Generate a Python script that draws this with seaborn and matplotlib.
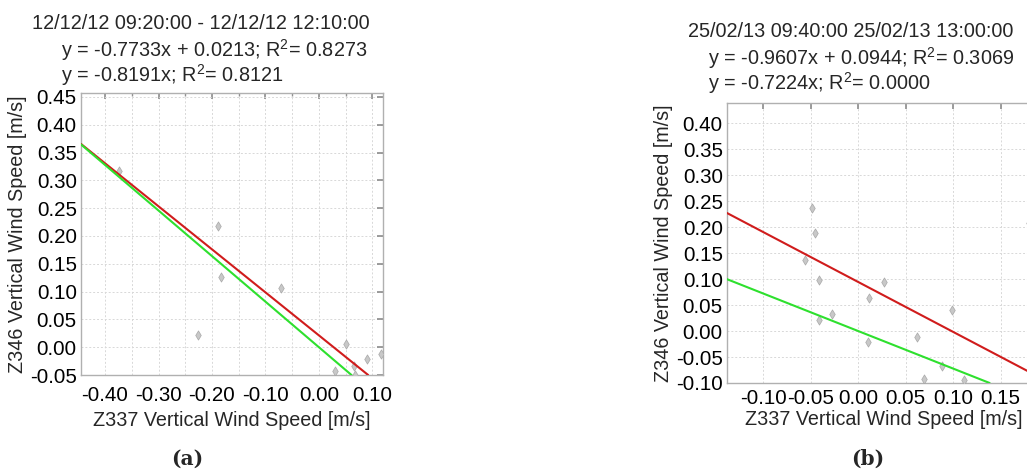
import numpy as np
import pandas as pd
import matplotlib
matplotlib.use("Agg")
import matplotlib.pyplot as plt
import seaborn as sns

# ---------------- data ----------------
a_x = [-0.374, -0.189, -0.184, -0.227, -0.071, 0.051, 0.031, 0.066, 0.068, 0.091, 0.117]
a_y = [0.317, 0.218, 0.126, 0.022, 0.106, 0.006, -0.043, -0.034, -0.050, -0.022, -0.013]
a_fit = (-0.7733, 0.0213)     # slope, intercept (red)
a_fit0 = -0.8191              # slope through origin (green)
a_title = "12/12/12 09:20:00 - 12/12/12 12:10:00"
a_eq1 = "y = -0.7733x + 0.0213; R$^2$= 0.8273"
a_eq2 = "y = -0.8191x; R$^2$= 0.8121"

b_x = [-0.049, -0.045, -0.056, -0.041, -0.041, -0.028, 0.011, 0.027, 0.010, 0.062, 0.099, 0.088, 0.069, 0.111, 0.180]
b_y = [0.237, 0.189, 0.137, 0.098, 0.022, 0.032, 0.064, 0.094, -0.022, -0.012, 0.041, -0.067, -0.093, -0.094, 0.208]
b_fit = (-0.9607, 0.0944)
b_fit0 = -0.7224
b_title = "25/02/13 09:40:00 25/02/13 13:00:00"
b_eq1 = "y = -0.9607x + 0.0944; R$^2$= 0.3069"
b_eq2 = "y = -0.7224x; R$^2$= 0.0000"

xlabel = "Z337 Vertical Wind Speed [m/s]"
ylabel = "Z346 Vertical Wind Speed [m/s]"

# ---------------- figure ----------------
sns.set_theme(style="white")
plt.rcParams['font.family'] = ['Liberation Sans', 'DejaVu Sans']
plt.rcParams['mathtext.fontset'] = 'custom'
plt.rcParams['mathtext.rm'] = 'Liberation Sans'
plt.rcParams['axes.unicode_minus'] = False

W, H = 1027, 473
fig = plt.figure(figsize=(W / 100, H / 100), dpi=100)

def px_axes(l, t, r, b):
    return fig.add_axes([l / W, 1 - b / H, (r - l) / W, (b - t) / H])

RED = "#d01c1c"
GREEN = "#2ee02e"
FS_T = 14.3
FS_TICK = 14.8
FS_LAB = 14.2

def style(ax, xlim, ylim, xmaj, xmin, ymaj, xpad, xlabpad):
    ax.set_xlim(*xlim)
    ax.set_ylim(*ylim)
    ax.xaxis.set_major_locator(matplotlib.ticker.MultipleLocator(xmaj))
    ax.xaxis.set_minor_locator(matplotlib.ticker.MultipleLocator(xmin))
    ax.yaxis.set_major_locator(matplotlib.ticker.MultipleLocator(ymaj))
    ax.xaxis.set_major_formatter(matplotlib.ticker.FormatStrFormatter("%.2f"))
    ax.yaxis.set_major_formatter(matplotlib.ticker.FormatStrFormatter("%.2f"))
    ax.grid(True, which="both", color="#d8d8d8", ls=(0, (2, 2)), lw=0.7)
    ax.set_axisbelow(True)
    for s in ax.spines.values():
        s.set_color("#b0b0b0")
        s.set_linewidth(1.0)
    ax.tick_params(which="both", direction="in", top=True, right=True,
                   colors="#909090", labelcolor="black", labelsize=FS_TICK, pad=3)
    ax.tick_params(axis="x", which="both", pad=xpad)
    ax.tick_params(which="major", length=4)
    ax.tick_params(which="minor", length=2)
    ax.set_xlabel(xlabel, fontsize=FS_LAB, labelpad=xlabpad)
    ax.set_ylabel(ylabel, fontsize=FS_LAB, labelpad=2)

def panel(ax, xs, ys, fit, fit0):
    df = pd.DataFrame({"x": xs, "y": ys})
    sns.scatterplot(data=df, x="x", y="y", ax=ax, marker="d", s=22,
                    color="#c8c8c8", edgecolor="#a8a8a8", linewidth=0.5, zorder=3)
    ax.axline((0, fit[1]), slope=fit[0], color=RED, lw=1.5, zorder=4)
    ax.axline((0, 0), slope=fit0, color=GREEN, lw=1.5, zorder=4)

# panel (a)
ax1 = px_axes(81, 93, 383, 375)
panel(ax1, a_x, a_y, a_fit, a_fit0)
style(ax1, (-0.445, 0.12), (-0.05, 0.457), 0.1, 0.05, 0.05, xpad=8, xlabpad=4)

# panel (b)
ax2 = px_axes(727, 103, 1041, 383)
panel(ax2, b_x, b_y, b_fit, b_fit0)
style(ax2, (-0.138, 0.1925), (-0.10, 0.4386), 0.05, 0.05, 0.05, xpad=4, xlabpad=2)
ax2.spines["right"].set_visible(False)

# titles
def t(x, y, s, **kw):
    fig.text(x / W, 1 - y / H, s, fontsize=FS_T, va="baseline", ha="left", **kw)

t(32, 29, a_title)
t(61, 57, a_eq1)
t(61, 82, a_eq2)
t(688, 37, b_title)
t(708, 65, b_eq1)
t(708, 90, b_eq2)

# captions
fig.text(187 / W, 1 - 459 / H, "(a)", fontsize=14.5, fontweight="bold",
         family="DejaVu Serif", ha="center", va="center")
fig.text(868 / W, 1 - 459 / H, "(b)", fontsize=14.5, fontweight="bold",
         family="DejaVu Serif", ha="center", va="center")

fig.savefig("out.png", dpi=100)
